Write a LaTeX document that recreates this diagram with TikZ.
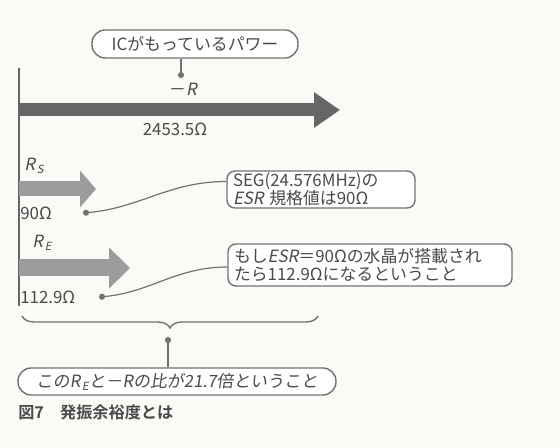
\documentclass[tikz,border=0pt]{standalone}
\usepackage{fontspec}
\setmainfont{Noto Sans CJK JP}[ItalicFont={Noto Sans CJK JP},ItalicFeatures={FakeSlant=0.2},BoldFont={Noto Sans CJK JP Bold}]
\newfontfamily\slantjp{Noto Sans CJK JP}[FakeSlant=0.15]
\usetikzlibrary{positioning,arrows.meta,decorations.pathreplacing}
\definecolor{ink}{HTML}{4A4A4A}
\definecolor{wire}{HTML}{727272}
\definecolor{heavy}{HTML}{666666}
\definecolor{light}{HTML}{9C9C9C}
\definecolor{paper}{HTML}{FBFAF6}
\newcommand{\lowsub}[1]{\kern1.2pt\raisebox{-0.35ex}{\fontsize{8}{8}\selectfont\textit{#1}}}

\begin{document}
\begin{tikzpicture}[x=0.25mm,y=-0.25mm,
  every node/.style={font=\fontsize{12}{12.5}\selectfont,text=ink},
  pill/.style={draw=wire,line width=0.35mm,rounded corners=3.3mm,inner sep=0pt,fill=white},
  callout/.style={draw=wire,line width=0.35mm,rounded corners=2mm,align=left,inner sep=0pt,fill=white},
  lead/.style={wire,line width=0.3mm,-{Circle[length=1.5mm]}}]
  \fill[paper] (0,0) rectangle (560,448);
  \useasboundingbox (0,0) rectangle (560,448);
  % axis and the three power bars
  \coordinate (top) at (19,68);
  \coordinate (bot) at (19,306);
  \draw[heavy,line width=0.5mm] (top) -- (bot);
  \coordinate (negR0) at (19,110);
  \coordinate (negR1) at (340,110);
  \coordinate (rs0) at (19,189);
  \coordinate (rs1) at (96,189);
  \coordinate (re0) at (19,268);
  \coordinate (re1) at (130,268);
  \draw[heavy,line width=3.25mm,-{Triangle[length=6.5mm,width=8.5mm]}] (negR0) -- (negR1);
  \draw[light,line width=3.75mm,-{Triangle[length=4mm,width=9mm]}] (rs0) -- (rs1);
  \draw[light,line width=4.25mm,-{Triangle[length=5.25mm,width=10mm]}] (re0) -- (re1);
  \node (mR) at (183,89) {－\textit{R}};
  \node (val) at (175,129) {2453.5Ω};
  \node (rsl) at (34,166) {\textit{R}\lowsub{S}};
  \node[anchor=west,inner sep=0pt] (rsv) at (20,213) {90Ω};
  \node (rel) at (42,243) {\textit{R}\lowsub{E}};
  \node[anchor=west,inner sep=0pt] (rev) at (20,297) {112.9Ω};
  \coordinate (rsdot) at (83,213);
  \coordinate (redot) at (99,297);
  % callouts
  \node[pill,minimum width=51.5mm,minimum height=7mm] (ic) at (195,44) {ICがもっているパワー};
  \coordinate (icdot) at (181,78);
  \draw[lead] (icdot |- ic.south) -- (icdot);
  \node[callout,text width=44mm,minimum height=9.25mm,inner xsep=1.5mm] (esr) at (321,189.5) {SEG(24.576MHz)の\\\textit{ESR}\ 規格値は90Ω};
  \node[callout,text width=68mm,minimum height=10.5mm,inner xsep=1.5mm] (xtal) at (370,265) {もし\textit{ESR}＝90Ωの水晶が搭載され\\たら112.9Ωになるということ};
  \draw[lead] ([yshift=2mm]esr.west) to[out=180,in=5] (rsdot);
  \draw[lead] ([yshift=-0.5mm]xtal.west) to[out=180,in=5] (redot);
  % brace and the ratio
  \coordinate (brL) at (22,316);
  \coordinate (brR) at (318,316);
  \draw[wire,line width=0.35mm,decorate,decoration={brace,mirror,amplitude=3mm}] (brL) -- (brR);
  \node[pill,minimum width=79.5mm,minimum height=6.75mm] (ratio) at (177,381.5) {\slantjp この\textit{R}\lowsub{E}と－\textit{R}の比が21.7倍ということ};
  \coordinate (brdot) at (168,337);
  \draw[lead] (ratio.north -| brdot) -- (brdot);
  \node[anchor=west,inner sep=0pt,font=\fontsize{11.5}{12}\selectfont\bfseries] (cap) at (18,412) {図7\quad 発振余裕度とは};
\end{tikzpicture}
\end{document}
